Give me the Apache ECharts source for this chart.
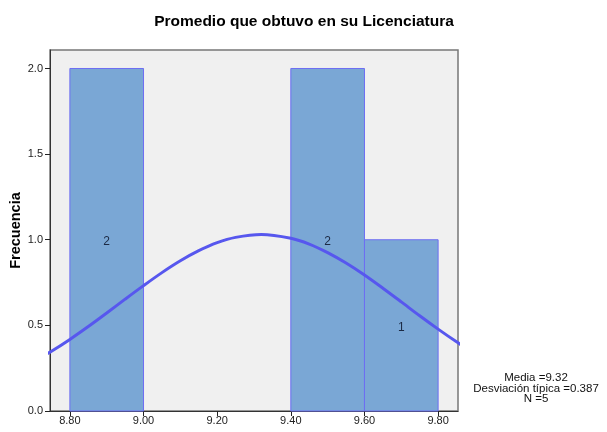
<!DOCTYPE html>
<html><head><meta charset="utf-8">
<script src="https://cdn.jsdelivr.net/npm/echarts@6/dist/echarts.min.js"></script>
<style>html,body{margin:0;padding:0;background:#fff}#c{width:607px;height:432px}</style>
</head><body><div id="c"></div>
<script>
const binStarts = [8.8, 9.0, 9.2, 9.4, 9.6];
const binEnds   = [9.0, 9.2, 9.4, 9.6, 9.8];
const freqs     = [2, 0, 0, 2, 1];
const curveX = [8.70,8.75,8.80,8.85,8.90,8.95,9.00,9.05,9.10,9.15,9.20,9.25,9.32,9.40,9.45,9.50,9.55,9.60,9.65,9.70,9.75,9.80,9.85,9.90];
const curveY = [0.286,0.349,0.418,0.493,0.572,0.653,0.732,0.808,0.877,0.936,0.983,1.014,1.031,1.009,0.975,0.925,0.864,0.794,0.717,0.637,0.556,0.478,0.404,0.335];
const xTicks = [8.8, 9.0, 9.2, 9.4, 9.6, 9.8];
const yTicks = [0, 0.5, 1.0, 1.5, 2.0];
const statsLines = ['Media =9.32', 'Desviación típica =0.387', 'N =5'];
const titleText = 'Promedio que obtuvo en su Licenciatura';
const yName = 'Frecuencia';

const chart = echarts.init(document.getElementById('c'), null, {renderer: 'canvas'});
const FONT = '"Liberation Sans", Arial, sans-serif';
const histData = binStarts.map((s, i) => [s, binEnds[i], freqs[i]]).filter(d => d[2] > 0);

chart.setOption({
  animation: false,
  backgroundColor: '#ffffff',
  title: {
    text: titleText, left: 299, top: 9, textAlign: 'center',
    textStyle: {fontFamily: FONT, fontSize: 15.5, fontWeight: 'bold', color: '#000'}
  },
  grid: {left: 50, top: 50, right: 149, bottom: 21, outerBoundsMode: 'none', containLabel: false,
         show: true, backgroundColor: '#f0f0f0', borderColor: '#777', borderWidth: 1.5},
  xAxis: {
    type: 'value', min: 8.746, max: 9.854,
    axisLine: {show: true, onZero: false, lineStyle: {color: '#333', width: 1}},
    axisTick: {show: true, length: 5, lineStyle: {color: '#222'}, customValues: xTicks},
    axisLabel: {customValues: xTicks, formatter: v => v.toFixed(2), fontFamily: FONT, fontSize: 11, color: '#222', margin: 4},
    splitLine: {show: false}
  },
  yAxis: {
    type: 'value', min: 0, max: 2.108,
    name: yName, nameLocation: 'middle', nameGap: 27, nameRotate: 90, nameMoveOverlap: false,
    nameTextStyle: {fontFamily: FONT, fontSize: 14.5, fontWeight: 'bold', color: '#000'},
    axisLine: {show: true, lineStyle: {color: '#333'}},
    axisTick: {show: true, length: 5, lineStyle: {color: '#222'}, customValues: yTicks},
    axisLabel: {customValues: yTicks, formatter: v => v.toFixed(1), fontFamily: FONT, fontSize: 11, color: '#222', margin: 7},
    splitLine: {show: false}
  },
  series: [
    {
      type: 'custom',
      data: histData,
      renderItem: function (params, api) {
        const p0 = api.coord([api.value(0), api.value(2)]);
        const p1 = api.coord([api.value(1), 0]);
        const mid = api.coord([(api.value(0) + api.value(1)) / 2, api.value(2) / 2]);
        return {
          type: 'group',
          children: [
            {type: 'rect', shape: {x: p0[0], y: p0[1], width: p1[0] - p0[0], height: p1[1] - p0[1]},
             style: {fill: '#7aa7d5', stroke: '#6e6ef2', lineWidth: 1}},
            {type: 'text', x: mid[0], y: mid[1] + 2,
             style: {text: String(api.value(2)), fill: '#1c2a44', font: '12px ' + FONT, align: 'center', verticalAlign: 'middle'}}
          ]
        };
      },
      encode: {x: [0, 1], y: 2},
      z: 2
    },
    {
      type: 'line', data: curveX.map((x, i) => [x, curveY[i]]), smooth: 0.3, showSymbol: false, clip: true,
      lineStyle: {color: '#5757ee', width: 3}, z: 3
    }
  ],
  graphic: statsLines.map((t, i) => ({
    type: 'text', x: 536, y: 372 + i * 10.5,
    style: {text: t, fill: '#111', font: '11.5px ' + FONT, align: 'center', verticalAlign: 'top'}
  }))
});
</script></body></html>
